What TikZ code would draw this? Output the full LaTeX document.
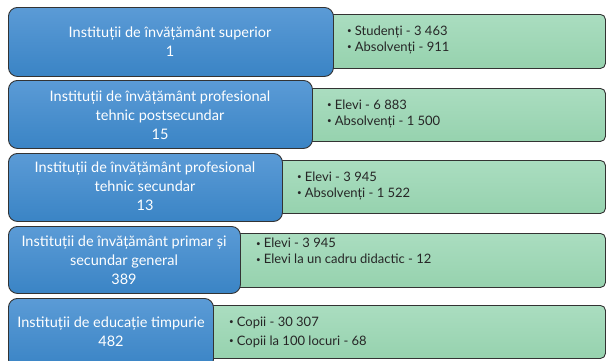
\documentclass[tikz,border=0pt]{standalone}
\usepackage{fontspec}
\setmainfont{Lato}
\usetikzlibrary{positioning}
\definecolor{bluetop}{HTML}{5B9BD6}
\definecolor{bluebot}{HTML}{3A84C5}
\definecolor{greentop}{HTML}{AADDC0}
\definecolor{greenbot}{HTML}{96D2AE}
\definecolor{edge}{HTML}{333333}
\tikzset{
  bluebox/.style={draw=edge, line width=0.9pt, rounded corners=9pt, top color=bluetop, bottom color=bluebot, anchor=north west, inner sep=0pt},
  greenbox/.style={draw=edge, line width=0.9pt, rounded corners=5pt, top color=greentop, bottom color=greenbot, anchor=north west, inner sep=0pt},
  bluetext/.style={text=white, align=center, font=\fontsize{14.5}{19}\selectfont, inner sep=0pt},
  greentext/.style={text=black!85, align=left, anchor=west, font=\fontsize{13}{16}\selectfont, inner sep=0pt},
}
\newcommand{\bul}{{\fontsize{8}{8}\selectfont\raisebox{0.2em}{•}}\hspace{3pt}}
\begin{document}
\begin{tikzpicture}[x=1pt,y=-1pt]
\useasboundingbox[fill=white] (0,0) rectangle (607,360);
% green boxes
\node[greenbox, minimum width=293pt, minimum height=54pt] (g1) at (312,14) {};
\node[greenbox, minimum width=313pt, minimum height=53pt] (g2) at (292,88) {};
\node[greenbox, minimum width=343pt, minimum height=53pt] (g3) at (262,160) {};
\node[greenbox, minimum width=385pt, minimum height=54pt] (g4) at (220,233) {};
\node[greenbox, minimum width=412pt, minimum height=53pt] (g5) at (193,305) {};
% blue boxes
\node[bluebox, minimum width=325pt, minimum height=69pt] (b1) at (8,7) {};
\node[bluebox, minimum width=304pt, minimum height=68pt] (b2) at (8,80) {};
\node[bluebox, minimum width=274pt, minimum height=68pt] (b3) at (8,153) {};
\node[bluebox, minimum width=232pt, minimum height=67pt] (b4) at (8,226) {};
\node[bluebox, minimum width=205pt, minimum height=70pt] (b5) at (8,298) {};
% blue texts
\node[bluetext] (t1) at (170,42) {Instituții de învățământ superior\\1};
\node[bluetext] (t2) at (160,115) {Instituții de învățământ profesional\\tehnic postsecundar\\15};
\node[bluetext] (t3) at (145,186) {Instituții de învățământ profesional\\tehnic secundar\\13};
\node[bluetext] (t4) at (124,260) {Instituții de învățământ primar și\\secundar general\\389};
\node[bluetext] (t5) at (111,332) {Instituții de educație timpurie\\482};
% green texts
\node[greentext] (s1) at (347,40) {\bul Studenți - 3 463\\\bul Absolvenți - 911};
\node[greentext] (s2) at (327,114) {\bul Elevi - 6 883\\\bul Absolvenți - 1 500};
\node[greentext] (s3) at (297,186) {\bul Elevi - 3 945\\\bul Absolvenți - 1 522};
\node[greentext] (s4) at (256,251) {\bul Elevi - 3 945\\\bul Elevi la un cadru didactic - 12};
\node[greentext, font=\fontsize{13}{19}\selectfont] (s5) at (229,332) {\bul Copii - 30 307\\\bul Copii la 100 locuri - 68};
\end{tikzpicture}
\end{document}
